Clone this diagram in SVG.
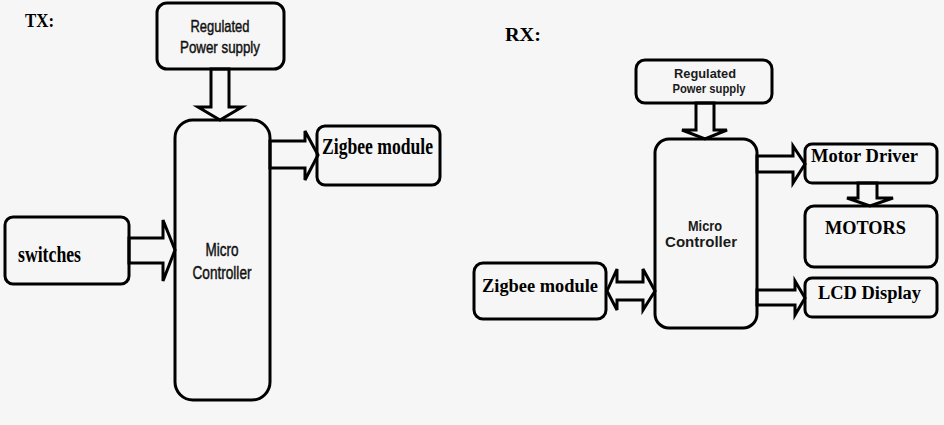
<svg xmlns="http://www.w3.org/2000/svg" width="944" height="425" viewBox="0 0 944 425">
<style>
.bx{fill:none;stroke:#000;stroke-width:3}
.ar{fill:#f6f6f6;stroke:#000;stroke-width:3;stroke-linejoin:miter}
.sa{font-family:"Liberation Sans",Arial,sans-serif;fill:#111;stroke:#111;stroke-width:0.45;text-anchor:middle}
.sb{font-family:"Liberation Sans",Arial,sans-serif;font-weight:bold;fill:#1a1a1a;text-anchor:middle}
.sr{font-family:"Liberation Serif","Times New Roman",serif;font-weight:bold;fill:#000}
</style>
<rect width="944" height="425" fill="#f6f6f6"/>
<text class="sr" x="25" y="27" font-size="18" textLength="29" lengthAdjust="spacingAndGlyphs">TX:</text>
<text class="sr" x="505" y="41" font-size="18" textLength="36" lengthAdjust="spacingAndGlyphs">RX:</text>
<g id="connectors">
<polygon class="ar" points="211,69 229,69 229,107 242,107 220,120 198,107 211,107"/>
<polygon class="ar" points="270,141 305,141 305,131 318,155 305,180 305,168 270,168"/>
<polygon class="ar" points="129,238 163,238 163,220 175,250 163,281 163,263 129,263"/>
<polygon class="ar" points="696,103 714,103 714,130 727,130 705,139 682,130 696,130"/>
<polygon class="ar" points="757,156 793,156 793,146 805,164 793,183 793,172 757,172"/>
<polygon class="ar" points="858,183 877,183 877,198 893,198 870,206 847,198 858,198"/>
<polygon class="ar" points="757,290 795,290 795,281 805,298 795,315 795,305 757,305"/>
<polygon class="ar" points="607,291 617,269 617,282 643,282 643,269 655,291 643,310 643,300 617,300 617,310"/>
</g>
<g id="tx-power">
<rect class="bx" x="157" y="3" width="127" height="66" rx="10"/>
<text class="sa" x="220" y="32" font-size="17" textLength="59" lengthAdjust="spacingAndGlyphs">Regulated</text>
<text class="sa" x="220" y="53" font-size="17" textLength="80" lengthAdjust="spacingAndGlyphs">Power supply</text>
</g>
<g id="tx-mcu">
<rect class="bx" x="175" y="120" width="95" height="280" rx="18"/>
<text class="sa" x="222" y="256" font-size="18" textLength="33" lengthAdjust="spacingAndGlyphs">Micro</text>
<text class="sa" x="222" y="279" font-size="18" textLength="59" lengthAdjust="spacingAndGlyphs">Controller</text>
</g>
<g id="tx-zigbee">
<rect class="bx" x="317" y="126" width="123" height="59" rx="8"/>
<text class="sr" x="322" y="154" font-size="23" textLength="111" lengthAdjust="spacingAndGlyphs">Zigbee module</text>
</g>
<g id="tx-switches">
<rect class="bx" x="5" y="217" width="124" height="67" rx="8"/>
<text class="sr" x="18" y="262" font-size="23" textLength="63" lengthAdjust="spacingAndGlyphs">switches</text>
</g>
<g id="rx-power">
<rect class="bx" x="636" y="60" width="136" height="43" rx="9"/>
<text class="sb" x="705" y="78" font-size="13" textLength="62" lengthAdjust="spacingAndGlyphs">Regulated</text>
<text class="sb" x="709" y="93" font-size="13" textLength="73" lengthAdjust="spacingAndGlyphs">Power supply</text>
</g>
<g id="rx-mcu">
<rect class="bx" x="655" y="139" width="102" height="189" rx="14"/>
<text class="sb" x="705" y="231" font-size="14" textLength="34" lengthAdjust="spacingAndGlyphs">Micro</text>
<text class="sb" x="701" y="247" font-size="14" textLength="72" lengthAdjust="spacingAndGlyphs">Controller</text>
</g>
<g id="rx-motor-driver">
<rect class="bx" x="805" y="144" width="132" height="39" rx="7"/>
<text class="sr" x="811" y="162" font-size="18" textLength="107" lengthAdjust="spacingAndGlyphs">Motor Driver</text>
</g>
<g id="rx-motors">
<rect class="bx" x="805" y="206" width="132" height="61" rx="9"/>
<text class="sr" x="825" y="234" font-size="18" textLength="81" lengthAdjust="spacingAndGlyphs">MOTORS</text>
</g>
<g id="rx-lcd">
<rect class="bx" x="805" y="278" width="132" height="39" rx="7"/>
<text class="sr" x="818" y="299" font-size="18" textLength="103" lengthAdjust="spacingAndGlyphs">LCD Display</text>
</g>
<g id="rx-zigbee">
<rect class="bx" x="474" y="263" width="132" height="56" rx="9"/>
<text class="sr" x="482" y="292" font-size="18" textLength="116" lengthAdjust="spacingAndGlyphs">Zigbee module</text>
</g>
</svg>
